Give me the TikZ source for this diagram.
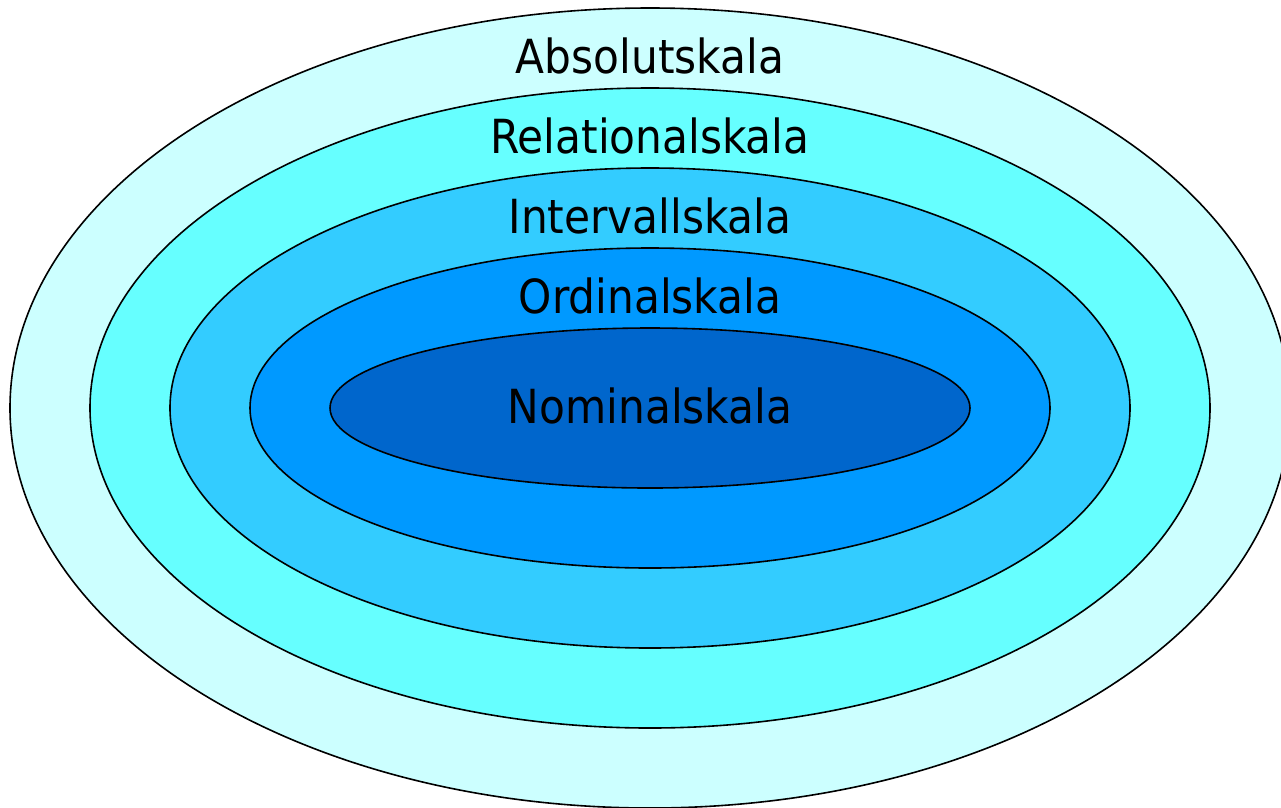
\documentclass[tikz,border=0pt]{standalone}
\usepackage{fontspec}
\setmainfont{DejaVu Sans Condensed}
\usepackage{xcolor}
\definecolor{scaleA}{HTML}{CCFFFF}
\definecolor{scaleB}{HTML}{66FFFF}
\definecolor{scaleC}{HTML}{33CCFF}
\definecolor{scaleD}{HTML}{0099FF}
\definecolor{scaleE}{HTML}{0066CC}
\tikzset{
  ring/.style={draw=black, line width=1.6pt},
  scalename/.style={anchor=base, font=\fontsize{47}{50}\selectfont, inner sep=0pt}
}
\begin{document}
\begin{tikzpicture}[x=1pt, y=-1pt]
	\useasboundingbox (0,0) rectangle (1281,807);
	\coordinate (mid) at (650,408);
	
	\draw[ring, fill=scaleA] (mid) ellipse (640 and 400);
	\draw[ring, fill=scaleB] (mid) ellipse (560 and 320);
	\draw[ring, fill=scaleC] (mid) ellipse (480 and 240);
	\draw[ring, fill=scaleD] (mid) ellipse (400 and 160);
	\draw[ring, fill=scaleE] (mid) ellipse (320 and 80);
	
	\node[scalename] (absolut) at (650,73) {Absolutskala};
	\node[scalename] (relational) at (650,153) {Relationalskala};
	\node[scalename] (intervall) at (650,233) {Intervallskala};
	\node[scalename] (ordinal) at (650,313) {Ordinalskala};
	\node[scalename] (nominal) at (650,423) {Nominalskala};
\end{tikzpicture}
\end{document}
